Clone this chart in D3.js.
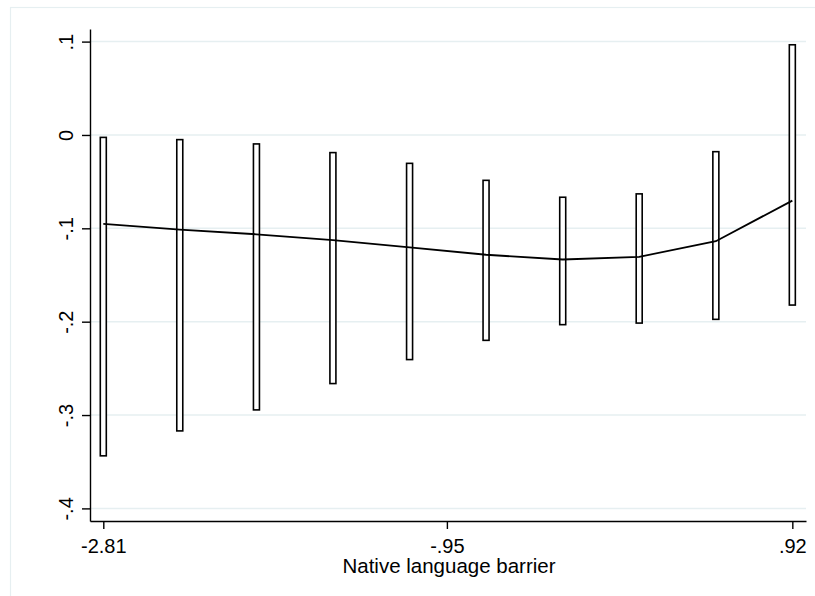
<!DOCTYPE html>
<html lang="en">
  <head>
    <meta charset="UTF-8" />
    <title>Native language barrier</title>
    <style>
      body { margin: 0; background: #fff; }
      text { font-family: "Liberation Sans", Arial, sans-serif; fill: #000; }
    </style>
  </head>
  <body>
    <svg id="svg" width="815" height="596"></svg>

    <script src="https://cdn.jsdelivr.net/npm/d3@7"></script>
    <script>
      // values
      const xs = [-2.81, -2.396, -1.981, -1.567, -1.152, -0.738, -0.323, 0.091, 0.506, 0.92];
      const fit = [-0.0952, -0.1013, -0.1064, -0.1127, -0.1205, -0.1283, -0.1334, -0.1305, -0.1138, -0.0703];
      const upper = [-0.0026, -0.005, -0.0096, -0.0189, -0.0304, -0.0486, -0.0667, -0.0631, -0.0179, 0.0966];
      const lower = [-0.3437, -0.317, -0.2945, -0.2663, -0.2406, -0.22, -0.2032, -0.2015, -0.1975, -0.1822];
      const xTicks = [-2.81, -0.95, 0.92];
      const yTicks = [0.1, 0, -0.1, -0.2, -0.3, -0.4];

      const data = xs.map((x, i) => ({ x, fit: fit[i], lo: lower[i], hi: upper[i] }));

      const svg = d3.select("#svg");
      const plotL = 90, plotR = 806, plotT = 29, plotB = 521;

      const xScale = d3.scaleLinear().domain([-2.882, 0.994]).range([plotL, plotR]);
      const yScale = d3.scaleLinear().domain([0.1135, -0.4135]).range([plotT, plotB]);

      const stataFmt = (d) => (d === 0 ? "0" : String(d).replace("0.", "."));

      // outer frame
      svg.append("rect")
        .attr("x", 10.5).attr("y", 7.5)
        .attr("width", 830).attr("height", 620)
        .attr("fill", "none")
        .attr("stroke", "#e6eff1")
        .attr("stroke-width", 1.2);

      // gridlines
      svg.append("g")
        .selectAll("line")
        .data(yTicks)
        .enter()
        .append("line")
        .attr("x1", plotL).attr("x2", plotR)
        .attr("y1", (d) => yScale(d)).attr("y2", (d) => yScale(d))
        .attr("stroke", "#e6eff1")
        .attr("stroke-width", 1.5);

      // CI bars
      svg.append("g")
        .selectAll("rect")
        .data(data)
        .enter()
        .append("rect")
        .attr("x", (d) => xScale(d.x) - 3)
        .attr("width", 6)
        .attr("y", (d) => yScale(d.hi))
        .attr("height", (d) => yScale(d.lo) - yScale(d.hi))
        .attr("fill", "#fff")
        .attr("stroke", "#000")
        .attr("stroke-width", 1.6);

      // fitted line
      svg.append("path")
        .datum(data)
        .attr("fill", "none")
        .attr("stroke", "#000")
        .attr("stroke-width", 1.8)
        .attr("d", d3.line().x((d) => xScale(d.x)).y((d) => yScale(d.fit)));

      // axes
      const yAxis = svg.append("g")
        .attr("transform", `translate(${plotL},0)`)
        .call(d3.axisLeft(yScale).tickValues(yTicks).tickFormat(stataFmt).tickSize(8).tickSizeOuter(0));
      yAxis.selectAll("text")
        .attr("font-size", 20)
        .attr("text-anchor", "middle")
        .attr("dy", null)
        .attr("x", null)
        .attr("transform", "translate(-17,0) rotate(-90)");

      const xAxis = svg.append("g")
        .attr("transform", `translate(0,${plotB})`)
        .call(d3.axisBottom(xScale).tickValues(xTicks).tickFormat(stataFmt).tickSize(8).tickSizeOuter(0));
      xAxis.selectAll("text")
        .attr("font-size", 20)
        .attr("dy", null)
        .attr("y", 32);

      svg.selectAll(".domain, .tick line").attr("stroke", "#000").attr("stroke-width", 1.4);
      svg.selectAll(".tick text").attr("font-family", "Liberation Sans, Arial, sans-serif").attr("fill", "#000");

      // axis title
      svg.append("text")
        .attr("x", (plotL + plotR) / 2 + 1)
        .attr("y", 572.5)
        .attr("text-anchor", "middle")
        .attr("font-size", 20.5)
        .text("Native language barrier");
    </script>
  </body>
</html>
